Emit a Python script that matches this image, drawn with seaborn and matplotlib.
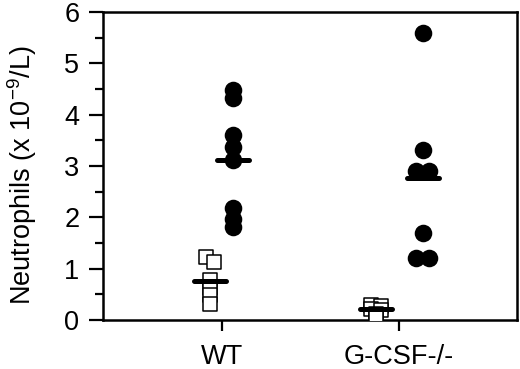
import numpy as np
import pandas as pd
import matplotlib
matplotlib.use("Agg")
import matplotlib.pyplot as plt
from matplotlib.ticker import MultipleLocator
import seaborn as sns

sns.set_style("ticks")
plt.rcParams['font.family'] = ['Liberation Sans', 'DejaVu Sans']
plt.rcParams['mathtext.default'] = 'regular'
plt.rcParams['text.color'] = 'black'
plt.rcParams['axes.labelcolor'] = 'black'
plt.rcParams['xtick.color'] = 'black'
plt.rcParams['ytick.color'] = 'black'
plt.rcParams['axes.edgecolor'] = 'black'

# Gruppen
groups = ["WT", "G-CSF-/-"]

# offene Quadrate (Ausgangswerte)
wt_open = [1.22, 1.12, 0.78, 0.62, 0.48, 0.32]
wt_open_jit = [-0.023, 0.023, 0, 0, 0, 0]
ko_open = [0.30, 0.28, 0.22, 0.19, 0.12, 0.05]
ko_open_jit = [-0.028, 0.028, -0.028, 0.028, 0, 0]

# gefuellte Kreise
wt_filled = [4.49, 4.32, 3.61, 3.37, 3.12, 2.19, 1.97, 1.82]
wt_filled_jit = [0, 0, 0, 0, 0, 0, 0, 0]
ko_filled = [5.60, 3.32, 2.91, 2.91, 1.70, 1.20, 1.20]
ko_filled_jit = [0, 0, -0.037, 0.037, 0, -0.037, 0.037]

# Mittelwerte (Balken)
mean_open = [0.76, 0.22]
mean_filled = [3.12, 2.76]

# Versatz der beiden Serien je Gruppe
off_open = [-0.068, -0.13]
off_filled = [0.062, 0.136]

rows = []
for g, (vals, jit) in enumerate([(wt_open, wt_open_jit), (ko_open, ko_open_jit)]):
    for v, j in zip(vals, jit):
        rows.append({"x": g + 1 + off_open[g] + j, "y": v, "kind": "open"})
for g, (vals, jit) in enumerate([(wt_filled, wt_filled_jit), (ko_filled, ko_filled_jit)]):
    for v, j in zip(vals, jit):
        rows.append({"x": g + 1 + off_filled[g] + j, "y": v, "kind": "filled"})
df = pd.DataFrame(rows)

fig = plt.figure(figsize=(5.2, 3.69), dpi=100)
ax = fig.add_axes([0.198, 0.133, 0.796, 0.834])

sns.scatterplot(data=df[df.kind == "open"], x="x", y="y", marker="s", s=115,
                facecolor="white", edgecolor="black", linewidth=1.1, ax=ax, zorder=3)
sns.scatterplot(data=df[df.kind == "filled"], x="x", y="y", marker="o", s=160,
                color="black", edgecolor="black", linewidth=0, ax=ax, zorder=3)

half = 0.09
for g in range(2):
    xo = g + 1 + off_open[g]
    xf = g + 1 + off_filled[g]
    ax.plot([xo - half, xo + half], [mean_open[g]] * 2, color="black", lw=3.6,
            solid_capstyle="round", zorder=4)
    ax.plot([xf - half, xf + half], [mean_filled[g]] * 2, color="black", lw=3.6,
            solid_capstyle="round", zorder=2)

ax.set_xlim(0.324, 2.67)
ax.set_ylim(0, 6)
ax.set_xticks([1, 2])
ax.set_xticklabels(groups)
ax.yaxis.set_major_locator(MultipleLocator(1))
ax.yaxis.set_minor_locator(MultipleLocator(0.5))
ax.set_xlabel("")
ax.set_ylabel("Neutrophils (x 10$^{-9}$/L)", fontsize=19.5)
ax.yaxis.set_label_coords(-0.155, 0.47)

for sp in ax.spines.values():
    sp.set_visible(True)
    sp.set_linewidth(1.8)
ax.tick_params(axis="y", which="major", direction="out", length=10, width=1.6,
               labelsize=19.5, pad=7)
ax.tick_params(axis="y", which="minor", direction="out", length=6, width=1.6)
ax.tick_params(axis="x", which="major", direction="out", length=8, width=1.6,
               labelsize=19.5, pad=9)

fig.savefig("out.png", dpi=100)
